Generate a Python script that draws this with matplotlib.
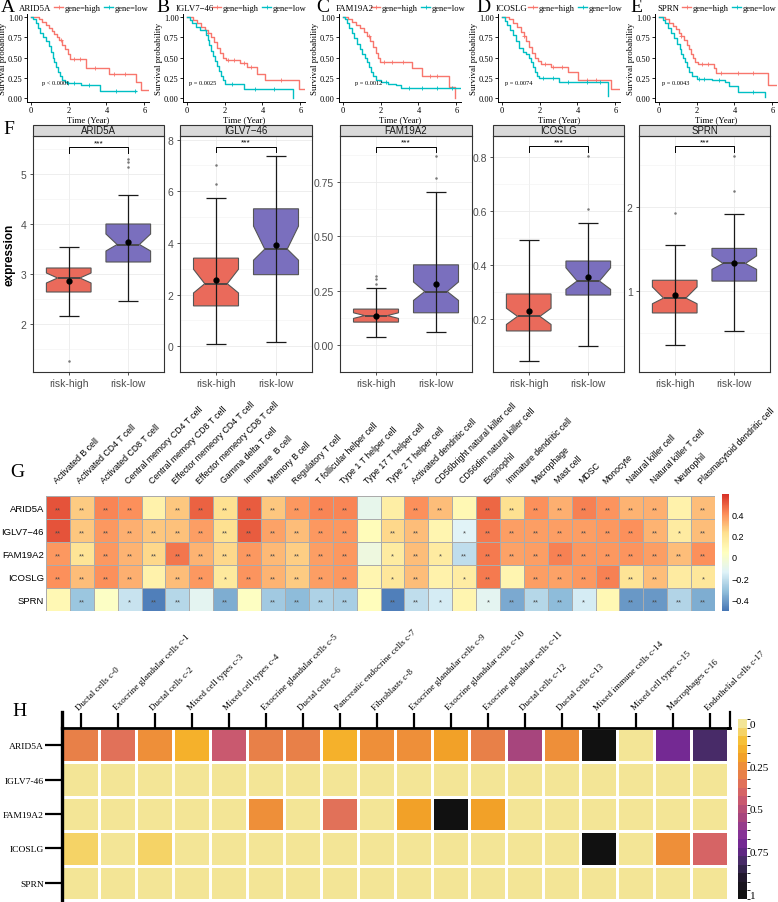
import numpy as np
import matplotlib
matplotlib.use("Agg")
import matplotlib.pyplot as plt
from matplotlib.colors import LinearSegmentedColormap, ListedColormap, BoundaryNorm
from matplotlib.lines import Line2D
from matplotlib.patches import Rectangle

plt.rcParams['font.family'] = ['Liberation Sans', 'DejaVu Sans']
SERIF = ['Liberation Serif', 'DejaVu Serif']

# -- data --
GENES = ["ARID5A", "IGLV7−46", "FAM19A2", "ICOSLG", "SPRN"]
P_TEXT = ["p < 0.0001", "p = 0.0025", "p = 0.0012", "p = 0.0074", "p = 0.0043"]

# Kaplan-Meier step curves (time in years, survival after each step)
KM_HIGH_T = [
    [0, 0.45, 0.6, 0.8, 0.95, 1.1, 1.25, 1.4, 1.5, 1.65, 1.8, 1.95, 2.05, 2.9, 4.15, 5.55, 5.85, 6.2],
    [0, 0.35, 0.55, 0.75, 0.95, 1.1, 1.3, 1.45, 1.6, 1.75, 1.9, 2.05, 2.8, 3.2, 3.7, 4.13, 5.95, 6.2],
    [0, 0.3, 0.5, 0.7, 0.9, 1.1, 1.3, 1.45, 1.6, 1.75, 1.85, 1.95, 3.65, 4.2, 5.6, 5.95],
    [0, 0.4, 0.6, 0.8, 1.0, 1.15, 1.3, 1.45, 1.6, 1.75, 1.9, 2.05, 2.6, 3.5, 4.05, 5.8, 6.2],
    [0, 0.35, 0.55, 0.75, 0.9, 1.05, 1.2, 1.35, 1.5, 1.6, 1.7, 1.8, 1.9, 2.05, 2.9, 3.05, 5.75, 6.2],
]
KM_HIGH_S = [
    [1, 0.97, 0.94, 0.9, 0.86, 0.83, 0.79, 0.75, 0.71, 0.66, 0.6, 0.54, 0.48, 0.37, 0.30, 0.20, 0.10, 0.10],
    [1, 0.96, 0.92, 0.88, 0.84, 0.8, 0.75, 0.69, 0.62, 0.56, 0.5, 0.47, 0.43, 0.39, 0.3, 0.23, 0.12, 0.12],
    [1, 0.97, 0.94, 0.9, 0.86, 0.82, 0.76, 0.7, 0.63, 0.56, 0.5, 0.45, 0.37, 0.27, 0.14, 0.0],
    [1, 0.97, 0.93, 0.88, 0.82, 0.76, 0.7, 0.63, 0.56, 0.5, 0.46, 0.42, 0.38, 0.32, 0.22, 0.11, 0.11],
    [1, 0.97, 0.93, 0.89, 0.85, 0.8, 0.76, 0.72, 0.66, 0.6, 0.55, 0.5, 0.45, 0.42, 0.37, 0.31, 0.16, 0.16],
]
KM_LOW_T = [
    [0, 0.1, 0.25, 0.4, 0.5, 0.65, 0.8, 0.95, 1.05, 1.15, 1.25, 1.35, 1.45, 1.55, 1.65, 1.8, 1.95, 2.65, 3.65, 5.55],
    [0, 0.15, 0.3, 0.5, 0.7, 1.0, 1.1, 1.2, 1.3, 1.4, 1.5, 1.6, 1.7, 1.8, 1.9, 2.0, 3.05, 5.6],
    [0, 0.1, 0.2, 0.35, 0.5, 0.6, 0.75, 0.9, 1.0, 1.15, 1.3, 1.4, 1.5, 1.6, 1.75, 2.0, 2.4, 2.8, 3.1, 6.2],
    [0, 0.15, 0.3, 0.45, 0.6, 0.75, 0.9, 1.1, 1.3, 1.45, 1.55, 1.65, 1.75, 1.85, 1.95, 3.05, 5.6],
    [0, 0.2, 0.35, 0.5, 0.65, 0.8, 0.95, 1.1, 1.2, 1.3, 1.4, 1.5, 1.6, 1.75, 2.0, 2.8, 3.5, 3.7, 4.2, 5.6],
]
KM_LOW_S = [
    [1, 0.97, 0.92, 0.86, 0.8, 0.75, 0.7, 0.64, 0.57, 0.5, 0.44, 0.38, 0.32, 0.27, 0.23, 0.2, 0.19, 0.16, 0.09, 0.09],
    [1, 0.96, 0.92, 0.88, 0.84, 0.78, 0.72, 0.65, 0.58, 0.52, 0.46, 0.4, 0.34, 0.28, 0.22, 0.17, 0.12, 0.0],
    [1, 0.97, 0.92, 0.86, 0.8, 0.74, 0.67, 0.6, 0.55, 0.5, 0.44, 0.38, 0.32, 0.27, 0.23, 0.2, 0.18, 0.16, 0.13, 0.13],
    [1, 0.95, 0.9, 0.84, 0.78, 0.7, 0.62, 0.57, 0.55, 0.5, 0.44, 0.38, 0.32, 0.28, 0.25, 0.2, 0.03],
    [1, 0.96, 0.92, 0.86, 0.8, 0.74, 0.67, 0.6, 0.55, 0.5, 0.44, 0.38, 0.32, 0.28, 0.24, 0.22, 0.2, 0.15, 0.08, 0.02],
]
KM_HIGH_CENS = [[1.6, 2.3, 2.6, 3.4, 4.4, 5.0], [1.1, 2.2, 2.5, 3.0, 3.4, 5.0], [1.4, 2.2, 2.6, 3.2, 4.6, 5.0],
                [1.2, 2.3, 2.7, 3.2, 4.5, 5.0], [1.2, 2.3, 2.6, 3.3, 4.2, 5.0]]
KM_LOW_CENS = [[1.95, 2.3, 3.1, 4.5, 5.5], [2.4, 3.6, 4.6], [2.3, 3.5, 4.2, 5.0, 5.8],
               [2.2, 2.7, 3.5, 4.5, 5.2], [2.1, 2.4, 3.2, 5.0]]

# boxplot stats: whislo, q1, cilo, med, cihi, q3, whishi, mean
BOX_HIGH = [
    [2.17, 2.64, 2.82, 2.92, 3.02, 3.12, 3.54, 2.87],
    [0.10, 1.56, 2.06, 2.42, 2.98, 3.41, 5.75, 2.58],
    [0.037, 0.105, 0.122, 0.135, 0.148, 0.165, 0.26, 0.135],
    [0.044, 0.156, 0.18, 0.21, 0.24, 0.293, 0.493, 0.23],
    [0.36, 0.74, 0.85, 0.917, 1.05, 1.13, 1.55, 0.95],
]
BOX_LOW = [
    [2.47, 3.24, 3.46, 3.59, 3.80, 4.00, 4.58, 3.65],
    [0.15, 2.77, 3.33, 3.76, 4.65, 5.32, 7.35, 3.92],
    [0.061, 0.148, 0.205, 0.246, 0.29, 0.369, 0.705, 0.283],
    [0.10, 0.289, 0.31, 0.341, 0.39, 0.415, 0.556, 0.356],
    [0.52, 1.12, 1.26, 1.33, 1.42, 1.51, 1.92, 1.34],
]
FLIERS_HIGH = [[1.27], [6.3, 7.0], [0.28, 0.305, 0.318], [], [1.93]]
FLIERS_LOW = [[5.15, 5.25, 5.3], [], [0.77, 0.873], [0.607, 0.804], [2.19, 2.61]]
BOX_YLIM = [(1.04, 5.76), (-0.25, 8.14), (-0.008, 0.963), (0.004, 0.878), (0.036, 2.85)]
BOX_TICKS = [[2, 3, 4, 5], [0, 2, 4, 6, 8], [0, 0.25, 0.5, 0.75], [0.2, 0.4, 0.6, 0.8], [1, 2]]
BOX_TICKLABELS = [["2", "3", "4", "5"], ["0", "2", "4", "6", "8"], ["0.00", "0.25", "0.50", "0.75"],
                  ["0.2", "0.4", "0.6", "0.8"], ["1", "2"]]
BRACKET_Y = [5.54, 7.73, 0.914, 0.841, 2.73]
GROUPS = ["risk-high", "risk-low"]

# immune infiltration correlation heatmap
G_COLS = ["Activated B cell", "Activated CD4 T cell", "Activated CD8 T cell", "Central memory CD4 T cell",
          "Central memory CD8 T cell", "Effector memeory CD4 T cell", "Effector memeory CD8 T cell",
          "Gamma delta T cell", "Immature  B cell", "Memory B cell", "Regulatory T cell",
          "T follicular helper cell", "Type 1 T helper cell", "Type 17 T helper cell", "Type 2 T helper cell",
          "Activated dendritic cell", "CD56bright natural killer cell", "CD56dim natural killer cell",
          "Eosinophil", "Immature dendritic cell", "Macrophage", "Mast cell", "MDSC", "Monocyte",
          "Natural killer cell", "Natural killer T cell", "Neutrophil", "Plasmacytoid dendritic cell"]
G_ROWS = ["ARID5A", "IGLV7−46", "FAM19A2", "ICOSLG", "SPRN"]
G_CORR_ARID5A = [0.52, 0.27, 0.42, 0.40, 0.12, 0.28, 0.49, 0.22, 0.50, 0.28, 0.38, 0.42, 0.42, -0.10,
                 0.14, 0.40, 0.30, 0.08, 0.48, 0.22, 0.40, 0.33, 0.43, 0.39, 0.32, 0.33, 0.12, 0.30]
G_CORR_IGLV7 = [0.52, 0.28, 0.38, 0.33, 0.28, 0.29, 0.37, 0.22, 0.50, 0.36, 0.30, 0.38, 0.38, 0.06,
                0.24, 0.30, 0.10, -0.14, 0.44, 0.37, 0.37, 0.37, 0.37, 0.38, 0.40, 0.32, 0.16, 0.30]
G_CORR_FAM19A2 = [0.38, 0.20, 0.38, 0.32, 0.24, 0.45, 0.32, 0.24, 0.38, 0.31, 0.26, 0.37, 0.38, -0.06,
                  0.16, 0.30, 0.16, -0.22, 0.44, 0.36, 0.37, 0.43, 0.38, 0.38, 0.39, 0.37, 0.30, 0.40]
G_CORR_ICOSLG = [0.40, 0.30, 0.40, 0.33, 0.12, 0.30, 0.38, 0.17, 0.39, 0.32, 0.27, 0.37, 0.38, 0.10,
                 0.18, 0.30, 0.12, 0.15, 0.44, 0.10, 0.37, 0.36, 0.38, 0.43, 0.20, 0.30, 0.16, 0.18]
G_CORR_SPRN = [0.08, -0.30, 0.02, -0.20, -0.48, -0.24, -0.12, -0.37, 0.03, -0.29, -0.33, -0.26, -0.27, 0.05,
               -0.48, -0.22, -0.17, 0.10, -0.12, -0.38, -0.24, -0.33, -0.17, 0.08, -0.42, -0.42, -0.25, -0.37]
# number of significance stars per cell
G_STARS_ARID5A = [2, 2, 2, 2, 0, 2, 2, 2, 2, 2, 2, 2, 2, 0, 0, 2, 2, 0, 2, 2, 2, 2, 2, 2, 2, 2, 0, 2]
G_STARS_IGLV7 = [2, 2, 2, 2, 2, 2, 2, 2, 2, 2, 2, 2, 2, 0, 2, 2, 0, 1, 2, 2, 2, 2, 2, 2, 2, 2, 1, 2]
G_STARS_FAM19A2 = [2, 2, 2, 2, 2, 2, 2, 2, 2, 2, 2, 2, 2, 0, 1, 2, 1, 2, 2, 2, 2, 2, 2, 2, 2, 2, 2, 2]
G_STARS_ICOSLG = [2, 2, 2, 2, 0, 2, 2, 1, 2, 2, 2, 2, 2, 0, 1, 2, 0, 1, 2, 0, 2, 2, 2, 2, 2, 2, 0, 1]
G_STARS_SPRN = [0, 2, 0, 1, 2, 2, 0, 2, 0, 2, 2, 2, 2, 0, 2, 2, 1, 0, 1, 2, 2, 2, 1, 0, 2, 2, 2, 2]

# single-cell cluster expression heatmap
H_COLS = ["Ductal cells c-0", "Exocrine glandular cells c-1", "Ductal cells c-2", "Mixed cell types c-3",
          "Mixed cell types c-4", "Exocrine glandular cells c-5", "Ductal cells c-6",
          "Pancreatic endocrine cells c-7", "Fibroblasts c-8", "Exocrine glandular cells c-9",
          "Exocrine glandular cells c-10", "Exocrine glandular cells c-11", "Ductal cells c-12",
          "Ductal cells c-13", "Mixed immune cells c-14", "Mixed cell types c-15", "Macrophages c-16",
          "Endothelial cells c-17"]
H_ROWS = ["ARID5A", "IGLV7-46", "FAM19A2", "ICOSLG", "SPRN"]
H_ARID5A = [0.30, 0.37, 0.26, 0.17, 0.45, 0.28, 0.28, 0.17, 0.27, 0.27, 0.20, 0.32, 0.55, 0.27, 1.0, 0.0, 0.72, 0.82]
H_IGLV7 = [0, 0, 0, 0, 0, 0, 0, 0, 0, 0, 0, 0, 0, 0, 0, 0, 0, 0]
H_FAM19A2 = [0, 0, 0, 0, 0, 0.27, 0, 0.37, 0, 0.22, 1.0, 0.22, 0, 0, 0, 0, 0, 0]
H_ICOSLG = [0.07, 0, 0.07, 0, 0, 0, 0, 0, 0, 0, 0, 0, 0, 0, 1.0, 0, 0.26, 0.42]
H_SPRN = [0, 0, 0, 0, 0, 0, 0, 0, 0, 0, 0, 0, 0, 0, 0, 0, 0, 0]

# -- style --
C_HIGH = "#F8766D"
C_LOW = "#00BFC4"
BOX_COLORS = ["#EA6A5B", "#7A6FBE"]
W, H = 778, 903

fig = plt.figure(figsize=(W / 100, H / 100), dpi=100)


def px_axes(x0, y0, x1, y1):
    # axes from a pixel box, y measured from the top
    return fig.add_axes([x0 / W, 1 - y1 / H, (x1 - x0) / W, (y1 - y0) / H])


def fig_text(x, y, s, **kw):
    return fig.text(x / W, 1 - y / H, s, **kw)


# ---- A-E: survival curves ----
KM_LEFT = [27, 183, 339, 498, 655]
LETTER_X = [1, 156, 316, 476, 630]
GENE_X = [19, 176, 336, 496, 657]
LEG_X = [54, 212, 371, 528, 682]
P_X = [0.6, 0.12, 0.67, 0.15, 0.15]

for i, gene in enumerate(GENES):
    x0 = KM_LEFT[i]
    ax = px_axes(x0, 15, x0 + 122, 103)
    for t, s, cens, col in [(KM_HIGH_T[i], KM_HIGH_S[i], KM_HIGH_CENS[i], C_HIGH),
                            (KM_LOW_T[i], KM_LOW_S[i], KM_LOW_CENS[i], C_LOW)]:
        t = np.array(t)
        s = np.array(s)
        ax.step(t, s, where='post', color=col, lw=1.0)
        cy = s[np.searchsorted(t, cens, side='right') - 1]
        ax.plot(cens, cy, ls='none', marker='+', ms=3.5, mew=0.6, color=col)
    ax.set_xlim(-0.2, 6.25)
    ax.set_ylim(-0.045, 1.035)
    ax.set_xticks([0, 2, 4, 6])
    ax.set_yticks([0, 0.25, 0.5, 0.75, 1.0])
    ax.set_yticklabels(["0.00", "0.25", "0.50", "0.75", "1.00"])
    for lab in ax.get_xticklabels() + ax.get_yticklabels():
        lab.set_family(SERIF)
        lab.set_fontsize(6)
    ax.tick_params(length=2, width=0.6, pad=1)
    for sp in ['top', 'right']:
        ax.spines[sp].set_visible(False)
    for sp in ['left', 'bottom']:
        ax.spines[sp].set_linewidth(0.7)
    ax.set_xlabel("Time (Year)", family=SERIF, fontsize=6.3, labelpad=0.5)
    ax.set_ylabel("Survival probability", family=SERIF, fontsize=6.4, labelpad=1)
    ax.text(P_X[i], 0.2, P_TEXT[i], family=SERIF, fontsize=4.6, va='center')
    fig_text(LETTER_X[i], 8, "ABCDE"[i], family=SERIF, fontsize=14, va='center')
    fig_text(GENE_X[i], 9, gene, family=SERIF, fontsize=6.3, va='center')
    handles = [Line2D([], [], color=C_HIGH, lw=1.0, marker='+', ms=3.5, mew=0.6),
               Line2D([], [], color=C_LOW, lw=1.0, marker='+', ms=3.5, mew=0.6)]
    ax.legend(handles, ["gene=high", "gene=low"], ncol=2, frameon=False, loc='center left',
              bbox_to_anchor=(LEG_X[i] / W, 1 - 9 / H), bbox_transform=fig.transFigure,
              prop={'family': SERIF, 'size': 6.1}, handlelength=1.1, handletextpad=0.2,
              columnspacing=0.35, borderpad=0, borderaxespad=0)

# ---- F: boxplots ----
BOX_LEFT = [33, 180, 340, 493, 639]
BOX_RIGHT = [164, 312, 472, 624, 770]
TOP, BOT = 137, 373
fig_text(3, 130, "F", family=SERIF, fontsize=14, va='center')
fig_text(10, 255, "expression", fontsize=8.5, fontweight='bold', rotation=90, va='center', ha='center')

for i, gene in enumerate(GENES):
    ax = px_axes(BOX_LEFT[i], TOP, BOX_RIGHT[i], BOT)
    stats = []
    for row, fl in [(BOX_HIGH[i], FLIERS_HIGH[i]), (BOX_LOW[i], FLIERS_LOW[i])]:
        stats.append(dict(whislo=row[0], q1=row[1], cilo=row[2], med=row[3], cihi=row[4],
                          q3=row[5], whishi=row[6], mean=row[7], fliers=fl))
    bp = ax.bxp(stats, positions=[1, 2], widths=0.75, shownotches=True, patch_artist=True,
                showcaps=False, showfliers=True,
                boxprops=dict(edgecolor='#555555', linewidth=0.8),
                medianprops=dict(color='#444444', linewidth=1.3),
                whiskerprops=dict(linestyle='none'),
                flierprops=dict(marker='o', markersize=1.8, markerfacecolor='#777777',
                                markeredgecolor='none'))
    for patch, col in zip(bp['boxes'], BOX_COLORS):
        patch.set_facecolor(col)
        patch.set_zorder(2)
    lo = np.array([st['whislo'] for st in stats])
    hi = np.array([st['whishi'] for st in stats])
    ax.errorbar([1, 2], (lo + hi) / 2, yerr=(hi - lo) / 2, fmt='none', ecolor='#1a1a1a',
                elinewidth=0.9, capsize=7, capthick=0.9, zorder=3)
    ax.plot([1, 2], [st['mean'] for st in stats], 'o', color='black', ms=3.5, zorder=4)

    y0, y1 = BOX_YLIM[i]
    ax.set_ylim(y0, y1)
    ax.set_xlim(0.4, 2.6)
    ax.set_yticks(BOX_TICKS[i])
    ax.set_yticklabels(BOX_TICKLABELS[i])
    tk = BOX_TICKS[i]
    step = tk[1] - tk[0]
    ax.set_yticks(np.arange(tk[0] - step / 2, y1, step), minor=True)
    ax.set_xticks([1, 2])
    ax.set_xticklabels(GROUPS)
    ax.set_axisbelow(True)
    ax.grid(True, which='major', color='#EBEBEB', lw=0.6)
    ax.grid(True, which='minor', axis='y', color='#F2F2F2', lw=0.4)
    ax.tick_params(axis='both', which='major', labelsize=7.5, labelcolor='#4D4D4D',
                   color='#333333', length=2.5, width=0.6, pad=2)
    ax.tick_params(axis='y', which='minor', length=0)
    for sp in ax.spines.values():
        sp.set_color('#333333')
        sp.set_linewidth(0.8)

    # significance bracket
    yb = BRACKET_Y[i]
    d = (y1 - y0) * 6 / (BOT - TOP)
    ax.plot([1, 1, 2, 2], [yb - d, yb, yb, yb - d], color='black', lw=0.7)
    ax.text(1.5, yb + (y1 - y0) * 1 / (BOT - TOP), "***", ha='center', va='bottom', fontsize=6)

    # facet strip
    sh = 11 / (BOT - TOP)
    ax.add_patch(Rectangle((0, 1), 1, sh, transform=ax.transAxes, clip_on=False,
                           facecolor='#D9D9D9', edgecolor='#333333', lw=0.8))
    ax.text(0.5, 1 + sh / 2, gene, transform=ax.transAxes, ha='center', va='center',
            fontsize=7, color='#1A1A1A')

# ---- G: immune correlation heatmap ----
g_values = np.array([G_CORR_ARID5A, G_CORR_IGLV7, G_CORR_FAM19A2, G_CORR_ICOSLG, G_CORR_SPRN])
g_stars = np.array([G_STARS_ARID5A, G_STARS_IGLV7, G_STARS_FAM19A2, G_STARS_ICOSLG, G_STARS_SPRN])
cmap_g = LinearSegmentedColormap.from_list(
    'rdylbu', ["#4575B4", "#91BFDB", "#E0F3F8", "#FFFFBF", "#FEE090", "#FC8D59", "#D73027"])

fig_text(10, 473, "G", family=SERIF, fontsize=14, va='center')
axg = px_axes(46, 497, 715, 612)
mesh_g = axg.pcolormesh(g_values, cmap=cmap_g, vmin=-0.51, vmax=0.59,
                        edgecolors='#ABABAB', linewidth=0.6)
axg.set_xlim(0, g_values.shape[1])
axg.set_ylim(g_values.shape[0], 0)
for r in range(g_values.shape[0]):
    for c in range(g_values.shape[1]):
        if g_stars[r, c]:
            axg.text(c + 0.5, r + 0.6, "*" * g_stars[r, c], ha='center', va='center',
                     fontsize=5.5, color='#4A4A4A')
axg.xaxis.tick_top()
axg.set_xticks(np.arange(len(G_COLS)) + 0.5)
axg.set_xticklabels(G_COLS, rotation=45, ha='left', va='bottom', rotation_mode='anchor', fontsize=6.3)
axg.set_yticks(np.arange(len(G_ROWS)) + 0.5)
axg.set_yticklabels(G_ROWS, fontsize=6.8)
axg.tick_params(axis='x', length=0, pad=8)
axg.tick_params(axis='y', length=0, pad=1.5)
for sp in axg.spines.values():
    sp.set_visible(False)

cax_g = px_axes(722, 495, 729, 612)
cb_g = fig.colorbar(mesh_g, cax=cax_g, ticks=[-0.4, -0.2, 0, 0.2, 0.4])
cb_g.ax.set_yticklabels(["−0.4", "−0.2", "0", "0.2", "0.4"], fontsize=6.5)
cb_g.ax.tick_params(length=0, pad=2)
cb_g.outline.set_visible(False)

# ---- H: single-cell heatmap ----
h_values = np.array([H_ARID5A, H_IGLV7, H_FAM19A2, H_ICOSLG, H_SPRN])
h_anchor = ["#F3E596", "#F6C23A", "#F4A722", "#EC8840", "#DF6C5E", "#C85870", "#A8467C",
            "#8A3596", "#6B2592", "#3F2C5E", "#1E1628", "#111111"]
h_cont = LinearSegmentedColormap.from_list('h', h_anchor)
cmap_h = ListedColormap(h_cont(np.linspace(0, 1, 21)))
norm_h = BoundaryNorm(np.linspace(-0.025, 1.025, 22), 21)

fig_text(12, 711, "H", family=SERIF, fontsize=14, va='center')
axh = px_axes(62, 729, 728, 901)
mesh_h = axh.pcolormesh(h_values, cmap=cmap_h, norm=norm_h, edgecolors='white', linewidth=1.8)
axh.set_xlim(0, h_values.shape[1])
axh.set_ylim(h_values.shape[0], 0)
axh.xaxis.tick_top()
axh.set_xticks(np.arange(len(H_COLS)) + 0.5)
axh.set_xticklabels(H_COLS, rotation=45, ha='left', va='bottom', rotation_mode='anchor',
                    fontsize=6.6, family=SERIF)
axh.set_yticks(np.arange(len(H_ROWS)) + 0.5)
axh.set_yticklabels(H_ROWS, fontsize=6.8, family=SERIF)
axh.tick_params(axis='x', length=11, width=1.6, color='black', pad=1)
axh.tick_params(axis='y', length=12, width=1.6, color='black', pad=1)
for sp in ['right', 'bottom']:
    axh.spines[sp].set_visible(False)
axh.spines['left'].set_linewidth(2.4)
axh.spines['top'].set_linewidth(2.0)
ext = 16 / (172 / 5)
axh.add_line(Line2D([0, 0], [0, -ext], color='black', lw=2.4, clip_on=False))
axh.add_line(Line2D([18, 18.06], [0, 0], color='black', lw=2.0, clip_on=False))
axh.add_line(Line2D([18.06, 18.06], [0, -ext], color='black', lw=1.6, clip_on=False))

cax_h = px_axes(738, 720, 747, 900)
cb_h = fig.colorbar(mesh_h, cax=cax_h, ticks=[0, 0.25, 0.5, 0.75, 1], drawedges=True)
cb_h.dividers.set_color('white')
cb_h.dividers.set_linewidth(0.8)
cb_h.outline.set_visible(False)
cb_h.ax.invert_yaxis()
cb_h.ax.set_yticklabels(["0", "0.25", "0.5", "0.75", "1"], fontsize=8, family=SERIF)
cb_h.ax.tick_params(length=0, pad=2)

fig.savefig("out.png", dpi=100)
